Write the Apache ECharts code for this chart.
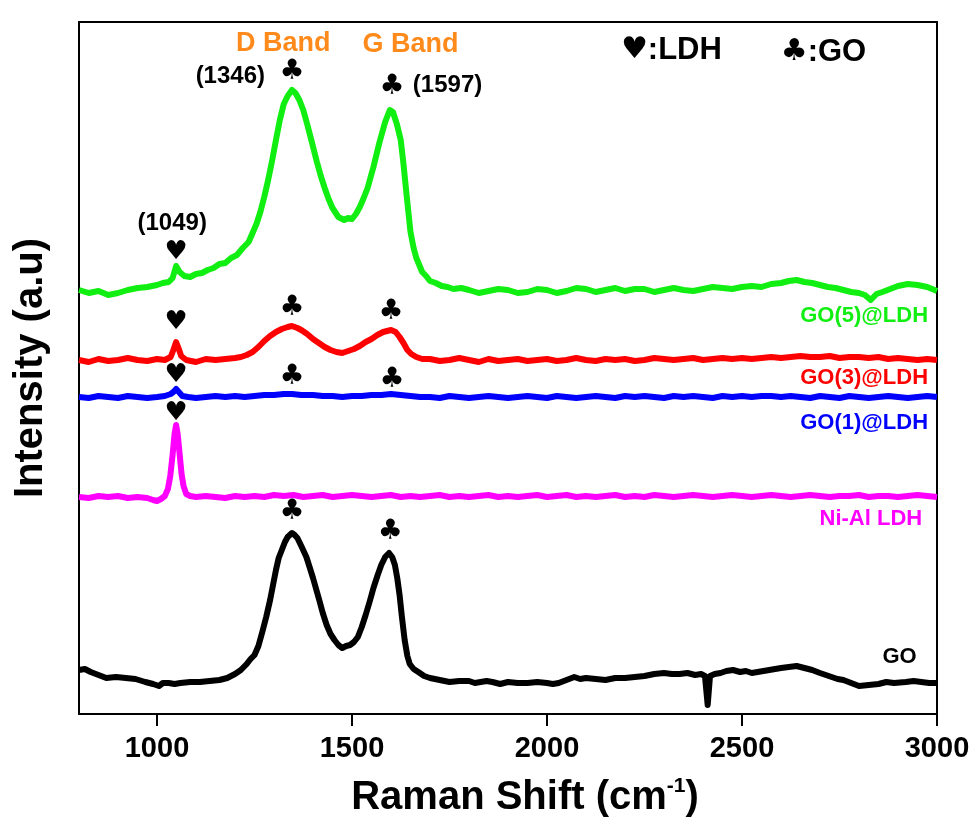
<!DOCTYPE html>
<html><head><meta charset="utf-8">
<script src="https://cdn.jsdelivr.net/npm/echarts@6/dist/echarts.min.js"></script>
<style>html,body{margin:0;padding:0;background:#fff}#c{width:976px;height:821px}</style>
</head><body><div id="c"></div>
<script>
// x tick labels
const xTicks = [1000, 1500, 2000, 2500, 3000];

// Raman spectra (x: Raman shift cm-1, y: intensity a.u., offset stacked)
const go5 = [[800,424],[825,421],[850,423],[875,419],[900,421],[925,424],[950,426],[975,427],[1000,429],[1015,431],[1030,432],[1040,436],[1049,448],[1058,442],[1070,438],[1085,437],[1100,440],[1115,441],[1130,444],[1145,446],[1160,450],[1175,451],[1190,456],[1205,459],[1220,466],[1235,472],[1245,481],[1255,490],[1265,502],[1275,517],[1285,534],[1295,553],[1305,574],[1315,594],[1325,610],[1335,618],[1346,624],[1355,621],[1365,614],[1375,604],[1385,590],[1395,575],[1410,552],[1420,538],[1430,526],[1440,515],[1450,506],[1465,497],[1480,494],[1490,496],[1500,495],[1510,500],[1520,507],[1530,516],[1540,526],[1555,547],[1570,571],[1585,592],[1597,604],[1605,602],[1615,590],[1625,574],[1632,550],[1640,519],[1650,482],[1658,466],[1665,456],[1680,442],[1690,438],[1700,433],[1715,431],[1730,428],[1745,427],[1760,425],[1780,426],[1800,424],[1825,421],[1850,423],[1875,425],[1900,424],[1925,421],[1950,422],[1975,425],[2000,424],[2025,421],[2050,423],[2075,426],[2100,425],[2125,422],[2150,424],[2175,426],[2200,423],[2225,425],[2250,425],[2275,422],[2300,424],[2325,426],[2350,424],[2375,423],[2400,425],[2425,427],[2450,426],[2475,425],[2500,427],[2525,428],[2550,427],[2575,430],[2600,431],[2620,433],[2640,434],[2660,432],[2680,431],[2700,429],[2720,427],[2740,426],[2760,424],[2780,422],[2800,421],[2815,419],[2830,414],[2845,420],[2860,422],[2880,425],[2900,428],[2925,430],[2950,429],[2975,427],[3000,423]];
const go3 = [[800,354],[825,352],[850,355],[875,353],[900,354],[925,356],[950,354],[975,353],[1000,355],[1020,354],[1035,357],[1042,364],[1049,372],[1055,366],[1062,358],[1075,354],[1100,352],[1125,355],[1150,354],[1175,355],[1200,356],[1215,357],[1230,359],[1245,362],[1260,367],[1275,373],[1290,378],[1305,382],[1320,385],[1335,387],[1346,388],[1360,386],[1370,384],[1385,380],[1400,375],[1415,371],[1430,367],[1445,364],[1460,362],[1475,361],[1490,363],[1505,365],[1520,368],[1535,372],[1550,375],[1565,379],[1580,382],[1600,384],[1612,382],[1622,377],[1632,371],[1642,364],[1652,360],[1665,357],[1680,355],[1700,355],[1725,353],[1750,354],[1775,356],[1800,354],[1825,352],[1850,355],[1875,353],[1900,354],[1925,355],[1950,353],[1975,354],[2000,355],[2025,353],[2050,354],[2075,356],[2100,354],[2125,353],[2150,355],[2175,354],[2200,355],[2225,353],[2250,354],[2275,356],[2300,355],[2325,354],[2350,355],[2375,356],[2400,354],[2425,355],[2450,356],[2475,355],[2500,356],[2525,355],[2550,356],[2575,357],[2600,356],[2625,357],[2650,358],[2675,357],[2700,357],[2725,358],[2750,356],[2775,357],[2800,357],[2825,356],[2850,357],[2875,355],[2900,356],[2925,355],[2950,354],[2975,355],[3000,354]];
const go1 = [[800,317],[825,316],[850,318],[875,317],[900,316],[925,318],[950,317],[975,316],[1000,317],[1020,318],[1035,320],[1042,322],[1049,325],[1056,322],[1065,318],[1080,317],[1100,316],[1125,317],[1150,318],[1175,317],[1200,318],[1225,317],[1250,318],[1275,319],[1300,319],[1325,320],[1346,320],[1370,319],[1400,319],[1425,318],[1450,318],[1475,317],[1500,318],[1525,318],[1550,319],[1575,319],[1600,320],[1625,319],[1650,318],[1675,317],[1700,317],[1725,316],[1750,318],[1775,317],[1800,316],[1825,317],[1850,318],[1875,317],[1900,316],[1925,317],[1950,318],[1975,317],[2000,316],[2025,318],[2050,317],[2075,316],[2100,317],[2125,318],[2150,317],[2175,316],[2200,318],[2225,317],[2250,318],[2275,317],[2300,316],[2325,318],[2350,317],[2375,318],[2400,317],[2425,316],[2450,318],[2475,317],[2500,318],[2525,317],[2550,318],[2575,318],[2600,317],[2625,318],[2650,317],[2675,316],[2700,318],[2725,317],[2750,316],[2775,318],[2800,317],[2825,316],[2850,317],[2875,318],[2900,317],[2925,316],[2950,317],[2975,318],[3000,317]];
const ldh = [[800,217],[825,216],[850,218],[875,217],[900,218],[925,216],[950,217],[975,216],[990,214],[1000,213],[1010,215],[1020,218],[1028,225],[1034,238],[1040,259],[1045,280],[1049,289],[1053,280],[1058,260],[1063,240],[1068,228],[1075,220],[1085,218],[1100,217],[1125,218],[1150,217],[1175,216],[1200,218],[1225,217],[1250,218],[1275,217],[1300,219],[1325,218],[1350,219],[1375,217],[1400,218],[1425,219],[1450,217],[1475,218],[1500,219],[1525,218],[1550,217],[1575,218],[1600,219],[1625,217],[1650,218],[1675,217],[1700,218],[1725,219],[1750,217],[1775,218],[1800,217],[1825,218],[1850,219],[1875,217],[1900,218],[1925,217],[1950,218],[1975,219],[2000,217],[2025,218],[2050,219],[2075,217],[2100,218],[2125,217],[2150,218],[2175,219],[2200,217],[2225,218],[2250,217],[2275,219],[2300,218],[2325,217],[2350,218],[2375,219],[2400,218],[2425,217],[2450,218],[2475,219],[2500,218],[2525,217],[2550,218],[2575,219],[2600,218],[2625,217],[2650,218],[2675,219],[2700,218],[2725,217],[2750,218],[2775,218],[2800,219],[2825,217],[2850,218],[2875,218],[2900,217],[2925,218],[2950,219],[2975,218],[3000,217]];
const go = [[800,44],[815,45],[830,42],[850,39],[870,36],[895,37],[920,36],[945,35],[970,32],[990,30],[1005,28],[1015,31],[1030,31],[1045,30],[1060,31],[1085,32],[1110,32],[1135,33],[1160,34],[1180,36],[1200,40],[1215,44],[1230,50],[1240,55],[1250,59],[1260,68],[1270,82],[1280,97],[1290,114],[1298,130],[1305,144],[1312,156],[1320,164],[1328,172],[1335,177],[1346,181],[1353,179],[1360,176],[1370,168],[1383,157],[1392,146],[1400,136],[1408,125],[1416,114],[1425,101],[1435,89],[1445,80],[1455,74],[1465,69],[1475,66],[1485,68],[1495,69],[1505,72],[1515,77],[1525,87],[1535,99],[1545,112],[1555,126],[1565,138],[1575,149],[1585,157],[1595,161],[1603,157],[1610,149],[1616,136],[1622,119],[1628,97],[1635,74],[1642,58],[1648,50],[1658,45],[1670,42],[1685,38],[1700,36],[1725,34],[1750,32],[1775,33],[1800,33],[1815,31],[1830,32],[1845,33],[1860,32],[1880,30],[1900,32],[1925,31],[1950,31],[1975,32],[2000,31],[2015,30],[2030,31],[2050,34],[2070,37],[2085,35],[2100,36],[2125,35],[2150,34],[2175,36],[2200,36],[2225,37],[2250,38],[2275,40],[2300,41],[2320,40],[2340,40],[2360,41],[2380,39],[2395,40],[2405,38],[2412,9],[2418,38],[2430,40],[2445,41],[2460,43],[2477,44],[2495,42],[2510,43],[2525,41],[2540,42],[2555,43],[2570,44],[2585,45],[2600,46],[2620,47],[2640,48],[2660,46],[2680,44],[2700,41],[2715,39],[2730,37],[2745,35],[2760,34],[2780,31],[2800,28],[2825,29],[2850,30],[2870,32],[2890,31],[2920,32],[2940,33],[2960,32],[2980,31],[3000,31]];

// annotations: [x, y, text]
const peakLabels = [[1039,491,'(1049)'],[1188,638,'(1346)'],[1745,629,'(1597)']];
const bandLabels = [[1324,670,'D Band'],[1650,669,'G Band']];
const hearts = [[1049,462],[1049,392],[1049,339],[1049,301]];
const clubs = [[1346,642],[1603,627],[1346,406],[1600,402],[1346,337],[1603,334],[1346,202],[1598,182]];
const keyLabels = [[2319,664,'♥',':LDH'],[2709,662,'♣',':GO']];
const seriesNames = ['GO(5)@LDH','GO(3)@LDH','GO(1)@LDH','Ni-Al LDH','GO'];
const seriesLabelPos = [[2977,398],[2977,336],[2977,291],[2962,195],[2948,57]];
const colors = ['#11ee11','#ff0000','#0000ff','#ff00ff','#000000'];

const FONT = '"Liberation Sans", Arial, sans-serif';
const SYM = '"DejaVu Sans", sans-serif';
const chart = echarts.init(document.getElementById('c'), null, {renderer:'canvas'});
const dataSets = [go5, go3, go1, ldh, go];
const series = dataSets.map((d,i)=>({
  type:'line', name:seriesNames[i], data:d, showSymbol:false, symbol:'none',
  lineStyle:{color:colors[i], width:6, join:'round'}, z:2, animation:false
}));
function textScatter(data, fmt, style){
  return {type:'scatter', data:data, symbolSize:0, z:5, animation:false, silent:true,
    itemStyle:{opacity:1}, emphasis:{disabled:true},
    label:Object.assign({show:true, position:'inside', formatter:fmt, opacity:1}, style)};
}
series.push(textScatter(peakLabels, p=>p.value[2], {color:'#000', fontFamily:FONT, fontWeight:'bold', fontSize:24}));
series.push(textScatter(bandLabels, p=>p.value[2], {color:'#ff8a1c', fontFamily:FONT, fontWeight:'bold', fontSize:27}));
series.push(textScatter(hearts, ()=>'♥', {color:'#000', fontFamily:SYM, fontSize:26}));
series.push(textScatter(clubs, ()=>'♣', {color:'#000', fontFamily:SYM, fontSize:28}));
series.push(textScatter(keyLabels, p=>'{s|'+p.value[2]+'}{t|'+p.value[3]+'}', {rich:{
  s:{fontFamily:SYM, fontSize:30, color:'#000'},
  t:{fontFamily:FONT, fontWeight:'bold', fontSize:31, color:'#000'}}}));
series.push({type:'scatter', data:seriesLabelPos.map((p,i)=>({value:p, label:{color:colors[i], formatter:seriesNames[i]}})),
  symbolSize:0, z:5, animation:false, silent:true, itemStyle:{opacity:1}, emphasis:{disabled:true},
  label:{show:true, position:'left', distance:0, fontFamily:FONT, fontWeight:'bold', fontSize:22, opacity:1}});

chart.setOption({
  backgroundColor:'#fff',
  animation:false,
  grid:{left:79, right:39, top:22, bottom:107, show:true, borderColor:'#000', borderWidth:2, backgroundColor:'transparent', outerBoundsMode:'none', containLabel:false},
  xAxis:{type:'value', min:800, max:3000,
    name:'{a|Raman Shift (cm}{b|-1}{a|)}', nameLocation:'middle', nameGap:62,
    nameTextStyle:{padding:[0,0,0,34], rich:{a:{fontFamily:FONT, fontWeight:'bold', fontSize:40, color:'#000'},
      b:{fontFamily:FONT, fontWeight:'bold', fontSize:21, color:'#000', verticalAlign:'top', padding:[0,0,22,0]}}},
    axisLine:{lineStyle:{color:'#000', width:2}},
    axisTick:{show:true, inside:false, length:12, lineStyle:{color:'#000', width:2}, customValues:xTicks},
    axisLabel:{customValues:xTicks, formatter:v=>String(v), color:'#000', fontFamily:FONT, fontWeight:'bold', fontSize:29, margin:20},
    splitLine:{show:false}},
  yAxis:{type:'value', min:0, max:692,
    name:'Intensity (a.u)', nameLocation:'middle', nameGap:28,
    nameTextStyle:{fontFamily:FONT, fontWeight:'bold', fontSize:40, color:'#000'},
    axisLine:{show:true, lineStyle:{color:'#000', width:2}},
    axisTick:{show:false}, axisLabel:{show:false}, splitLine:{show:false}},
  series:series
});
</script></body></html>
